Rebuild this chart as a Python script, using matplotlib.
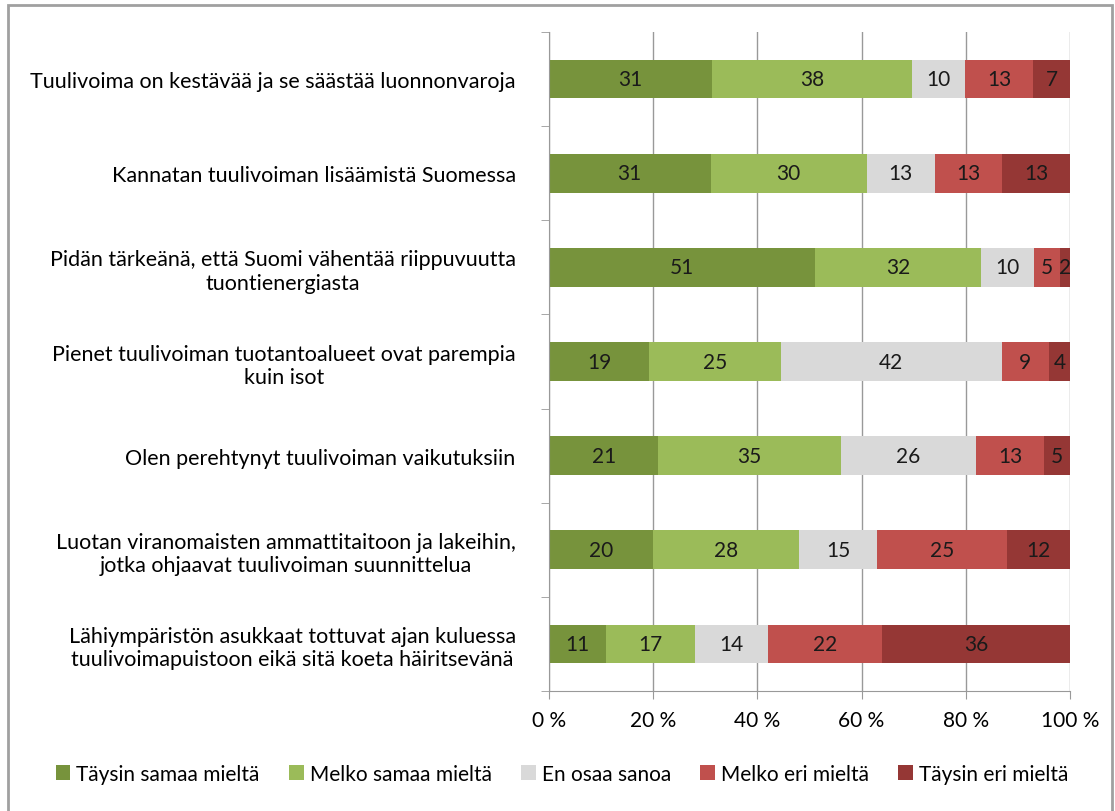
import matplotlib.pyplot as plt
from matplotlib.patches import Rectangle
import numpy as np

plt.rcParams['font.family'] = ['Lato', 'DejaVu Sans']

statements = [
    'Tuulivoima on kestävää ja se säästää luonnonvaroja',
    'Kannatan tuulivoiman lisäämistä Suomessa',
    'Pidän tärkeänä, että Suomi vähentää riippuvuutta\ntuontienergiasta',
    'Pienet tuulivoiman tuotantoalueet ovat parempia\nkuin isot',
    'Olen perehtynyt tuulivoiman vaikutuksiin',
    'Luotan viranomaisten ammattitaitoon ja lakeihin,\njotka ohjaavat tuulivoiman suunnittelua',
    'Lähiympäristön asukkaat tottuvat ajan kuluessa\ntuulivoimapuistoon eikä sitä koeta häiritsevänä',
]
categories = ['Täysin samaa mieltä', 'Melko samaa mieltä', 'En osaa sanoa',
              'Melko eri mieltä', 'Täysin eri mieltä']
taysin_samaa = [31, 31, 51, 19, 21, 20, 11]
melko_samaa = [38, 30, 32, 25, 35, 28, 17]
en_osaa = [10, 13, 10, 42, 26, 15, 14]
melko_eri = [13, 13, 5, 9, 13, 25, 22]
taysin_eri = [7, 13, 2, 4, 5, 12, 36]
colors = ['#77933C', '#9BBB59', '#D9D9D9', '#C0504D', '#953735']

values = np.array([taysin_samaa, melko_samaa, en_osaa, melko_eri, taysin_eri], dtype=float)
shares = values / values.sum(axis=0) * 100

fig = plt.figure(figsize=(11.15, 8.12), dpi=100)
ax = fig.add_axes([549 / 1115, 1 - 692 / 812, (1070 - 549) / 1115, (692 - 33) / 812])

y = np.arange(len(statements))
left = np.zeros(len(statements))
for i, cat in enumerate(categories):
    ax.barh(y, shares[i], left=left, height=0.41, color=colors[i], label=cat, zorder=2)
    for j in range(len(statements)):
        ax.text(left[j] + shares[i][j] / 2, y[j], f'{int(values[i][j])}',
                ha='center', va='center', fontsize=15, color='#1a1a1a', zorder=3)
    left += shares[i]

ax.set_xlim(0, 100)
ax.set_ylim(len(statements) - 0.5, -0.5)
ax.set_xticks(np.arange(0, 101, 20))
ax.set_xticklabels([f'{t} %' for t in range(0, 101, 20)], fontsize=15)
ax.set_yticks(y)
ax.set_yticklabels(statements, fontsize=15.5, ha='right', multialignment='center')
ax.tick_params(axis='y', length=0, pad=24)
ax.set_yticks(np.arange(-0.5, len(statements), 1), minor=True)
ax.tick_params(axis='y', which='minor', length=6, color='#999999')
ax.tick_params(axis='x', length=6, color='#999999', pad=8)
ax.grid(axis='x', color='#999999', linewidth=1, zorder=0)
for s in ['top', 'right']:
    ax.spines[s].set_visible(False)
for s in ['left', 'bottom']:
    ax.spines[s].set_color('#999999')

fig.legend(loc='center', bbox_to_anchor=(562 / 1115, 1 - 775 / 812), ncol=5,
           frameon=False, fontsize=15, handlelength=0.7, handleheight=0.7,
           handletextpad=0.3, columnspacing=1.4)

fig.patches.append(Rectangle((8 / 1115, -0.02), (1112 - 8) / 1115, 1 - 6 / 812 + 0.02,
                             transform=fig.transFigure, fill=False,
                             edgecolor='#A0A0A0', linewidth=2))

fig.savefig('out.png', dpi=100)
